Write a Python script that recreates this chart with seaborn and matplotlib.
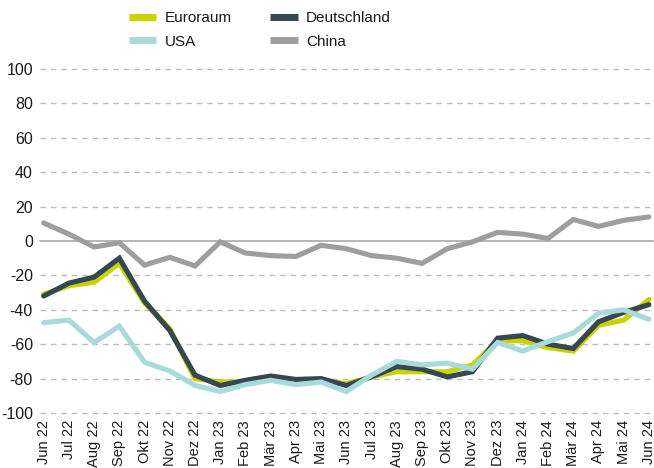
import numpy as np
import pandas as pd
import matplotlib
matplotlib.use("Agg")
import matplotlib.pyplot as plt
import seaborn as sns
from matplotlib.lines import Line2D

months = ["Jun 22", "Jul 22", "Aug 22", "Sep 22", "Okt 22", "Nov 22", "Dez 22",
          "Jan 23", "Feb 23", "Mär 23", "Apr 23", "Mai 23", "Jun 23", "Jul 23",
          "Aug 23", "Sep 23", "Okt 23", "Nov 23", "Dez 23", "Jan 24", "Feb 24",
          "Mär 24", "Apr 24", "Mai 24", "Jun 24"]

euroraum = [-31, -26, -24, -13, -36, -51, -80, -82, -82, -80, -81, -81, -83, -79,
            -76, -76, -76, -72, -58, -58, -62, -64, -49, -46, -34]
deutschland = [-32, -24.5, -21, -10, -35, -52, -78, -84, -81, -78.5, -80.5, -80, -84, -79,
               -73, -74.5, -79, -76, -56.5, -55, -60, -62.5, -47, -41.5, -37]
usa = [-47.5, -46, -59, -49.5, -70.5, -75.5, -84, -87.5, -83.5, -81, -83.5, -82, -87.5, -78,
       -70, -72, -71, -74.5, -59, -64, -58.5, -53.5, -42, -40, -45.5]
china = [10.5, 4, -3.5, -1, -14, -9.5, -14.5, -0.5, -7, -8.5, -9, -2.5, -4.5, -8.5,
         -10, -13, -4.5, -0.5, 5, 4, 1.5, 12.5, 8.5, 12, 14]

yticks = [100, 80, 60, 40, 20, 0, -20, -40, -60, -80, -100]

sns.set_theme(style="white")
plt.rcParams["font.family"] = ["Liberation Sans", "DejaVu Sans"]
plt.rcParams["text.color"] = "#1a1a1a"

series = {"China": china, "Euroraum": euroraum, "Deutschland": deutschland, "USA": usa}
colors = {"Euroraum": "#c8d400", "Deutschland": "#37474f", "USA": "#a8dadc", "China": "#9e9e9e"}

rows = []
for name, vals in series.items():
    for i, v in enumerate(vals):
        rows.append({"idx": i, "value": v, "series": name})
df = pd.DataFrame(rows)

fig = plt.figure(figsize=(6.54, 4.68), dpi=100)
ax = fig.add_axes([0.061, 0.1175, 0.937, 0.7351])

for y in yticks:
    if y == 0:
        ax.axhline(0, color="#b0b0b0", lw=1.3, zorder=1)
    else:
        ax.axhline(y, color="#bdbdbd", lw=1.0, ls=(0, (4, 3.5)), zorder=1)

sns.lineplot(data=df, x="idx", y="value", hue="series", palette=colors,
             hue_order=["China", "Euroraum", "Deutschland", "USA"],
             linewidth=3.7, ax=ax, legend=False, zorder=3)
for line in ax.lines:
    line.set_solid_joinstyle("miter")
    line.set_clip_on(False)

ax.set_xlim(-0.15, 24.15)
ax.set_ylim(-100, 100)
ax.set_yticks(yticks)
ax.set_yticklabels([str(y) for y in yticks], fontsize=11.5, color="#1a1a1a")
ax.set_xticks(range(len(months)))
ax.set_xticklabels(months, rotation=90, fontsize=10.5, color="#1a1a1a")
ax.tick_params(axis="x", length=0, pad=5)
ax.tick_params(axis="y", length=0, pad=5)
ax.set_xlabel("")
ax.set_ylabel("")
for s in ax.spines.values():
    s.set_visible(False)

order = ["Euroraum", "USA", "Deutschland", "China"]
handles = [Line2D([0], [0], color=colors[n], lw=5, solid_capstyle="butt") for n in order]
fig.legend(handles, order, loc="upper left", bbox_to_anchor=(0.183, 0.996), ncol=2,
           frameon=False, fontsize=11, handlelength=1.8, handletextpad=0.55,
           columnspacing=2.5, labelspacing=0.62, borderaxespad=0.2)

fig.savefig("out.png", dpi=100)
